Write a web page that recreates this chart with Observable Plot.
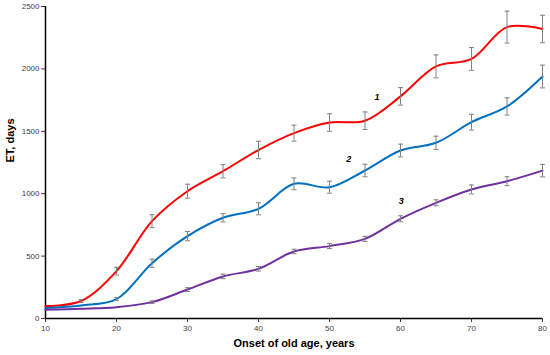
<!DOCTYPE html>
<html>
<head>
<meta charset="utf-8">
<script src="https://cdn.jsdelivr.net/npm/d3@7"></script>
<script src="https://cdn.jsdelivr.net/npm/@observablehq/plot@0.6"></script>
<style>
  html, body { margin: 0; padding: 0; background: #fff; }
  #chart { width: 550px; height: 355px; }
</style>
</head>
<body>
<div id="chart"></div>
<script>
const ages = [10, 15, 20, 25, 30, 35, 40, 45, 50, 55, 60, 65, 70, 75, 80];
const et1 = [100, 140, 380, 780, 1020, 1180, 1350, 1485, 1570, 1585, 1780, 2020, 2080, 2335, 2320];
const err1 = [0, 11, 31, 52, 56, 53, 70, 64, 70, 70, 70, 92, 91, 128, 110];
const et2 = [85, 105, 155, 443, 660, 807, 879, 1079, 1052, 1186, 1346, 1408, 1573, 1699, 1939];
const err2 = [0, 0, 12, 33, 37, 33, 48, 47, 48, 50, 51, 53, 63, 69, 91];
const et3 = [70, 78, 91, 131, 232, 337, 398, 537, 580, 638, 799, 927, 1034, 1100, 1185];
const err3 = [0, 0, 0, 10, 15, 18, 18, 18, 20, 20, 24, 24, 36, 36, 50];
const seriesNames = ["1", "2", "3"];
const seriesColors = ["#ff0000", "#0070c0", "#7030a0"];
const labelX = [56.7, 52.7, 60.1];
const labelY = [1771, 1274, 940];
const yTicks = [0, 500, 1000, 1500, 2000, 2500];
const xTicks = [10, 20, 30, 40, 50, 60, 70, 80];

const allEt = [et1, et2, et3];
const allErr = [err1, err2, err3];
const rows = [];
seriesNames.forEach((s, i) => {
  ages.forEach((a, j) => rows.push({series: s, age: a, et: allEt[i][j], err: allErr[i][j]}));
});
const errRows = rows.filter(d => d.err > 0);
const labels = seriesNames.map((s, i) => ({series: s, x: labelX[i], y: labelY[i]}));

const capSymbol = {
  draw(context, size) {
    const r = Math.sqrt(size / Math.PI);
    context.moveTo(-r, 0);
    context.lineTo(r, 0);
  }
};

const chart = Plot.plot({
  width: 550,
  height: 355,
  marginLeft: 45,
  marginRight: 8,
  marginTop: 6,
  marginBottom: 37,
  style: {fontFamily: "'Liberation Sans', Arial, sans-serif", background: "#fff"},
  x: {domain: [10, 80], ticks: xTicks},
  y: {domain: [0, 2500], ticks: yTicks},
  color: {domain: seriesNames, range: seriesColors},
  marks: [
    Plot.axisX({ticks: xTicks, tickSize: 4, tickPadding: 3, fontSize: 8, color: "#404040", label: null, tickFormat: d => String(d)}),
    Plot.axisY({ticks: yTicks, tickSize: 4, tickPadding: 2, fontSize: 8, color: "#404040", label: null, tickFormat: d => String(d)}),
    Plot.ruleX([10], {stroke: "#000", strokeWidth: 1.5}),
    Plot.ruleY([0], {stroke: "#000", strokeWidth: 1.5}),
    Plot.line(rows, {x: "age", y: "et", z: "series", stroke: "series", strokeWidth: 2, curve: "catmull-rom"}),
    Plot.ruleX(errRows, {x: "age", y1: d => d.et - d.err, y2: d => d.et + d.err, stroke: "#808080", strokeWidth: 1}),
    Plot.dot(errRows, {x: "age", y: d => d.et - d.err, symbol: capSymbol, r: 2.5, stroke: "#808080", strokeWidth: 1, fill: "none"}),
    Plot.dot(errRows, {x: "age", y: d => d.et + d.err, symbol: capSymbol, r: 2.5, stroke: "#808080", strokeWidth: 1, fill: "none"}),
    Plot.text(labels, {x: "x", y: "y", text: "series", fontSize: 9, fontStyle: "italic", fontWeight: "bold", fill: "#000"}),
    Plot.text(["Onset of old age, years"], {frameAnchor: "bottom", lineAnchor: "middle", dy: 25, fontSize: 11, fontWeight: "bold", fill: "#000"}),
    Plot.text(["ET, days"], {frameAnchor: "left", dx: -35, rotate: -90, fontSize: 11, fontWeight: "bold", fill: "#000"})
  ]
});
document.getElementById("chart").appendChild(chart);
</script>
</body>
</html>
